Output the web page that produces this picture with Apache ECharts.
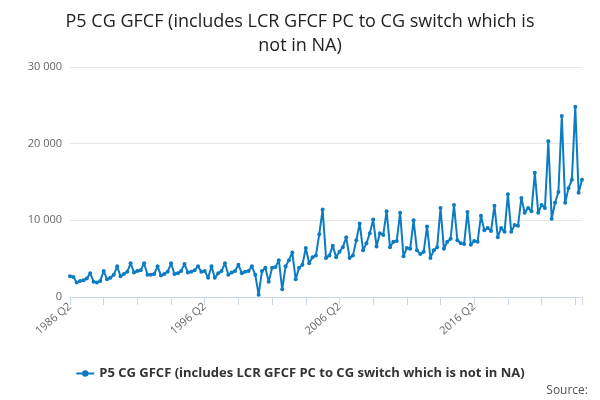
<!DOCTYPE html>
<html>
<head>
<meta charset="utf-8">
<script src="https://cdn.jsdelivr.net/npm/echarts@6/dist/echarts.min.js"></script>
<style>html,body{margin:0;padding:0;background:#fff}#chart{width:600px;height:400px}</style>
</head>
<body>
<div id="chart"></div>
<script>
// quarterly values, 1986 Q2 .. 2024 Q3
const gfcfEarly = [2700, 2600, 1900, 2100, 2200, 2400, 3100, 2000, 1900, 2100, 3400, 2300, 2500, 2900, 4000,
	2700, 3000, 3300, 4400, 3200, 3400, 3500, 4400, 2900, 2900, 3000, 4000, 2800, 3000, 3300, 4400,
	3000, 3100, 3400, 4300, 3200, 3300, 3500, 4000, 3300, 3400, 2500, 4000, 2500, 3100, 3400, 4400,
	2900, 3200, 3400, 4200, 3100, 3300, 3400];
const gfcfMid = [4000, 2900, 300, 3400, 3800, 2000, 3800, 3900, 4800, 1000, 4000, 4800, 5800, 2300, 3800,
	4200, 6400, 4400, 5200, 5400, 8200, 11400, 5100, 5400, 6700, 5200, 5900, 6500, 7800, 5100, 5400,
	7400, 9600, 6100, 7000, 8300, 10100, 6600, 8300, 8100, 11200, 6500, 7200, 7300, 11000, 5300, 6400,
	6300, 10000, 6100, 5600, 5900, 9200, 5100];
const gfcfLate = [6100, 6500, 11600, 6300, 7200, 7600, 12000, 7400, 7000, 6900, 11100, 6800, 7300, 7200,
	10600, 8700, 9000, 8600, 11900, 7800, 9000, 8500, 13400, 8500, 9400, 9300, 12900, 11000, 11600,
	11200, 16200, 11000, 12000, 11600, 20300, 10200, 12300, 13700, 23600, 12300, 14200, 15300, 24800,
	13600, 15300];
const seriesName = 'P5 CG GFCF (includes LCR GFCF PC to CG switch which is not in NA)';
const labelQuarters = ['1986 Q2', '1996 Q2', '2006 Q2', '2016 Q2', '2024 Q3'];

const values = gfcfEarly.concat(gfcfMid, gfcfLate);
const quarters = [];
let yr = 1986, q = 2;
for (let i = 0; i < values.length; i++) {
	quarters.push(yr + ' Q' + q);
	q++;
	if (q > 4) { q = 1; yr++; }
}

const chart = echarts.init(document.getElementById('chart'));
const option = {
	backgroundColor: '#fff',
	textStyle: { fontFamily: 'Open Sans' },
	title: {
		text: 'P5 CG GFCF (includes LCR GFCF PC to CG switch which is\nnot in NA)',
		left: 'center', top: 5,
		textStyle: { fontSize: 18, fontWeight: 'normal', color: '#222', lineHeight: 24 }
	},
	legend: {
		data: [seriesName], bottom: 15, itemWidth: 18, itemHeight: 8,
		textStyle: { fontSize: 13, fontWeight: 'bold', color: '#333' }
	},
	graphic: [{ type: 'text', right: 12, bottom: 3, style: { text: 'Source:', fontSize: 12, fill: '#555', fontFamily: 'Open Sans' } }],
	grid: { left: 70, right: 18, top: 67, bottom: 103 },
	xAxis: {
		type: 'category', data: quarters, boundaryGap: false,
		axisLine: { lineStyle: { color: '#ccd6eb' } },
		axisTick: { interval: 9, lineStyle: { color: '#ccd6eb' }, length: 8 },
		axisLabel: {
			interval: 0,
			formatter: v => labelQuarters.indexOf(v) >= 0 ? v : '',
			rotate: 40, color: '#666', fontSize: 11
		}
	},
	yAxis: {
		type: 'value', min: 0, max: 30000, interval: 10000,
		axisLabel: { color: '#666', fontSize: 11, formatter: v => v === 0 ? '0' : (v / 1000) + ' 000' },
		splitLine: { lineStyle: { color: '#e6e6e6' } }
	},
	series: [{
		name: seriesName, type: 'line', data: values,
		symbol: 'circle', symbolSize: 4, showAllSymbol: true,
		lineStyle: { color: '#0c7cc2', width: 2 }, itemStyle: { color: '#0c7cc2' }
	}]
};
chart.setOption(option);
</script>
</body>
</html>
